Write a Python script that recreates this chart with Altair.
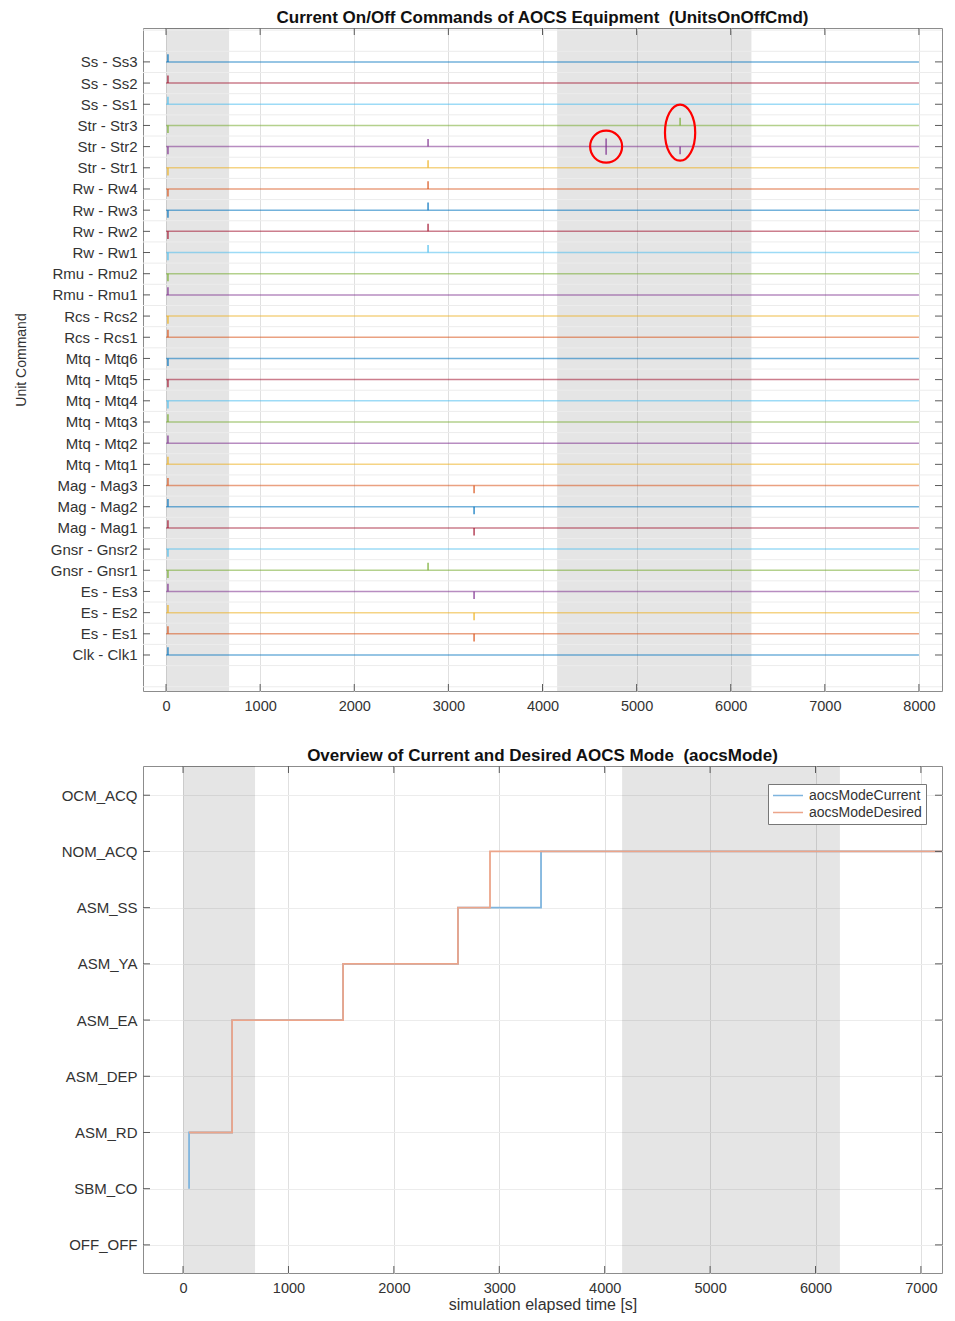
import json
import altair as alt
import pandas as pd

# ---------------- top panel: unit on/off commands ----------------
unit_labels = [
    "Clk - Clk1", "Es - Es1", "Es - Es2", "Es - Es3", "Gnsr - Gnsr1", "Gnsr - Gnsr2",
    "Mag - Mag1", "Mag - Mag2", "Mag - Mag3", "Mtq - Mtq1", "Mtq - Mtq2", "Mtq - Mtq3",
    "Mtq - Mtq4", "Mtq - Mtq5", "Mtq - Mtq6", "Rcs - Rcs1", "Rcs - Rcs2", "Rmu - Rmu1",
    "Rmu - Rmu2", "Rw - Rw1", "Rw - Rw2", "Rw - Rw3", "Rw - Rw4", "Str - Str1",
    "Str - Str2", "Str - Str3", "Ss - Ss1", "Ss - Ss2", "Ss - Ss3",
]
line_start = 0
line_end = 8000

# command pulses: time [s], unit index, direction (+1 up, -1 down, 0 both)
pulse_time = [20] * 29 + [2784] * 7 + [3273] * 6 + [4676, 5462, 5462]
pulse_unit = list(range(29)) + [24, 23, 22, 21, 20, 19, 4] + [8, 7, 6, 3, 2, 1] + [24, 25, 24]
pulse_dir = ([1, 1, 1, 1, -1, -1, 1, 1, 1, 1, 1, 1, -1, -1, -1, 1, -1, 1, -1, -1,
              -1, -1, -1, -1, -1, -1, 1, 1, 1]
             + [1] * 7 + [-1] * 6 + [0, 1, -1])

top_shade_start = [0, 4155]
top_shade_end = [670, 6220]
top_x_ticks = [0, 1000, 2000, 3000, 4000, 5000, 6000, 7000, 8000]

circle_time = [4676]
circle_unit = [24]
ellipse_time = [5462]
ellipse_unit = [24.66]

# ---------------- bottom panel: AOCS mode ----------------
mode_labels = ["OFF_OFF", "SBM_CO", "ASM_RD", "ASM_DEP", "ASM_EA", "ASM_YA",
               "ASM_SS", "NOM_ACQ", "OCM_ACQ"]
cur_time = [57, 57, 465, 1518, 2608, 3396, 7200]
cur_mode = [1, 2, 4, 5, 6, 7, 7]
des_time = [57, 465, 1518, 2608, 2912, 7200]
des_mode = [2, 4, 5, 6, 7, 7]
bot_shade_start = [0, 4165]
bot_shade_end = [683, 6232]
bot_x_ticks = [0, 1000, 2000, 3000, 4000, 5000, 6000, 7000]

# ---------------- styling ----------------
FONT = "Liberation Sans"
W = 799
H1 = 663
H2 = 507
TICK = 7
TICK_COLOR = "#5a5a5a"
TXT = "#333333"
matlab = ["#0072BD", "#D95319", "#EDB120", "#7E2F8E", "#77AC30", "#4DBEEE", "#A2142F"]

# ======== top panel ========
tx_scale = alt.Scale(domain=[-245, 8245], nice=False, zero=False)
ty_scale = alt.Scale(domain=[-1.7, 29.6], nice=False, zero=False)
tx_axis = alt.Axis(values=top_x_ticks, format="d", grid=True, gridColor="#e0e0e0",
                   ticks=False, domain=False, labelFontSize=14.5, labelColor=TXT,
                   labelPadding=8, title="")
ty_axis = alt.Axis(values=list(range(len(unit_labels))),
                   labelExpr=json.dumps(unit_labels) + "[datum.value]",
                   grid=False, ticks=False, domain=False, labelFontSize=15,
                   labelColor=TXT, labelPadding=6, title="Unit Command",
                   titleFontSize=14, titleFontWeight="normal", titleColor=TXT,
                   titlePadding=22)


def tx(f):
    return alt.X(f, scale=tx_scale, axis=tx_axis)


def ty(f):
    return alt.Y(f, scale=ty_scale, axis=ty_axis)


shade_t = alt.Chart(pd.DataFrame({"s": top_shade_start, "e": top_shade_end})).mark_rect(
    color="#000000", opacity=0.1).encode(x=tx("s:Q"), x2="e:Q", y=alt.value(0), y2=alt.value(H1))

half_grid = alt.Chart(pd.DataFrame({"g": [i + 0.5 for i in range(-2, 30)]})).mark_rule(
    color="#ececec", strokeWidth=1).encode(y=ty("g:Q"))

units_df = pd.DataFrame({
    "row": list(range(len(unit_labels))),
    "start": [line_start] * len(unit_labels),
    "end": [line_end] * len(unit_labels),
    "col": [matlab[i % 7] for i in range(len(unit_labels))],
})
unit_lines = alt.Chart(units_df).mark_rule(strokeWidth=1.5, opacity=0.55).encode(
    x=tx("start:Q"), x2="end:Q", y=ty("row:Q"), color=alt.Color("col:N", scale=None))

pulse_df = pd.DataFrame({"t": pulse_time, "row": pulse_unit, "d": pulse_dir})
pulse_df["lo"] = pulse_df["row"] + pulse_df["d"].map({1: 0.0, -1: -0.36, 0: -0.38})
pulse_df["hi"] = pulse_df["row"] + pulse_df["d"].map({1: 0.36, -1: 0.0, 0: 0.38})
pulse_df["col"] = [matlab[r % 7] for r in pulse_df["row"]]
pulses = alt.Chart(pulse_df).mark_rule(strokeWidth=1.5, opacity=0.8).encode(
    x=tx("t:Q"), y=ty("lo:Q"), y2="hi:Q", color=alt.Color("col:N", scale=None))

circ = alt.Chart(pd.DataFrame({"t": circle_time, "row": circle_unit})).mark_point(
    shape="circle", size=1024, filled=False, color="#ff0000", strokeWidth=2.2, opacity=1
).encode(x=tx("t:Q"), y=ty("row:Q"))
ell = alt.Chart(pd.DataFrame({"t": ellipse_time, "row": ellipse_unit})).mark_point(
    shape="M-0.54,0A0.54,1,0,1,0,0.54,0A0.54,1,0,1,0,-0.54,0Z", size=3136, filled=False,
    color="#ff0000", strokeWidth=2.2, opacity=1
).encode(x=tx("t:Q"), y=ty("row:Q"))

ty_ticks_df = pd.DataFrame({"v": list(range(len(unit_labels)))})
tx_ticks_df = pd.DataFrame({"v": top_x_ticks})
t_tick_l = alt.Chart(ty_ticks_df).mark_rule(color=TICK_COLOR).encode(
    y=ty("v:Q"), x=alt.value(0), x2=alt.value(TICK))
t_tick_r = alt.Chart(ty_ticks_df).mark_rule(color=TICK_COLOR).encode(
    y=ty("v:Q"), x=alt.value(W - TICK), x2=alt.value(W))
t_tick_b = alt.Chart(tx_ticks_df).mark_rule(color=TICK_COLOR).encode(
    x=tx("v:Q"), y=alt.value(H1 - TICK), y2=alt.value(H1))
t_tick_t = alt.Chart(tx_ticks_df).mark_rule(color=TICK_COLOR).encode(
    x=tx("v:Q"), y=alt.value(0), y2=alt.value(TICK))

top = alt.layer(shade_t, half_grid, unit_lines, pulses, circ, ell,
                t_tick_l, t_tick_r, t_tick_b, t_tick_t).properties(
    width=W, height=H1,
    title=alt.TitleParams("Current On/Off Commands of AOCS Equipment \u00a0(UnitsOnOffCmd)",
                          fontSize=17, fontWeight="bold", color="#111111", offset=1, font=FONT))

# ======== bottom panel ========
bx_scale = alt.Scale(domain=[-380, 7200], nice=False, zero=False)
by_scale = alt.Scale(domain=[-0.5, 8.52], nice=False, zero=False)
bx_axis = alt.Axis(values=bot_x_ticks, format="d", grid=True, gridColor="#e0e0e0",
                   ticks=False, domain=False, labelFontSize=14.5, labelColor=TXT,
                   labelPadding=8, title="simulation elapsed time [s]", titleFontSize=16,
                   titleFontWeight="normal", titleColor=TXT, titlePadding=2)
by_axis = alt.Axis(values=list(range(len(mode_labels))),
                   labelExpr=json.dumps(mode_labels) + "[datum.value]",
                   grid=True, gridColor="#ececec", ticks=False, domain=False,
                   labelFontSize=15, labelColor=TXT, labelPadding=6, title="")


def bx(f):
    return alt.X(f, scale=bx_scale, axis=bx_axis)


def by(f):
    return alt.Y(f, scale=by_scale, axis=by_axis)


shade_b = alt.Chart(pd.DataFrame({"s": bot_shade_start, "e": bot_shade_end})).mark_rect(
    color="#000000", opacity=0.1).encode(x=bx("s:Q"), x2="e:Q", y=alt.value(0), y2=alt.value(H2))

mode_df = pd.concat([
    pd.DataFrame({"t": cur_time, "mode": cur_mode, "series": "aocsModeCurrent"}),
    pd.DataFrame({"t": des_time, "mode": des_mode, "series": "aocsModeDesired"}),
], ignore_index=True)
mode_lines = alt.Chart(mode_df).mark_line(interpolate="step-after", strokeWidth=1.8).encode(
    x=bx("t:Q"), y=by("mode:Q"),
    color=alt.Color("series:N",
                    scale=alt.Scale(domain=["aocsModeCurrent", "aocsModeDesired"],
                                    range=["#7fb5de", "#eca58a"]),
                    legend=alt.Legend(orient="none", legendX=625, legendY=18, title=None,
                                      symbolType="stroke", symbolSize=900, clipHeight=15,
                                      symbolStrokeWidth=1.5, labelFontSize=14,
                                      labelColor=TXT, labelFont=FONT, strokeColor="#777777",
                                      fillColor="#ffffff", padding=4, rowPadding=2,
                                      labelOffset=5)),
    detail="series:N")

by_ticks_df = pd.DataFrame({"v": list(range(len(mode_labels)))})
bx_ticks_df = pd.DataFrame({"v": bot_x_ticks})
b_tick_l = alt.Chart(by_ticks_df).mark_rule(color=TICK_COLOR).encode(
    y=by("v:Q"), x=alt.value(0), x2=alt.value(TICK))
b_tick_r = alt.Chart(by_ticks_df).mark_rule(color=TICK_COLOR).encode(
    y=by("v:Q"), x=alt.value(W - TICK), x2=alt.value(W))
b_tick_b = alt.Chart(bx_ticks_df).mark_rule(color=TICK_COLOR).encode(
    x=bx("v:Q"), y=alt.value(H2 - TICK), y2=alt.value(H2))
b_tick_t = alt.Chart(bx_ticks_df).mark_rule(color=TICK_COLOR).encode(
    x=bx("v:Q"), y=alt.value(0), y2=alt.value(TICK))

bottom = alt.layer(shade_b, mode_lines, b_tick_l, b_tick_r, b_tick_b, b_tick_t).properties(
    width=W, height=H2,
    title=alt.TitleParams("Overview of Current and Desired AOCS Mode \u00a0(aocsMode)",
                          fontSize=17, fontWeight="bold", color="#111111", offset=1, font=FONT))

chart = alt.vconcat(top, bottom, spacing=75, bounds="flush").resolve_scale(
    color="independent"
).resolve_legend(
    color="independent"
).properties(
    padding={"left": 5, "top": 0, "right": 0, "bottom": 0}
).configure(font=FONT).configure_view(stroke="#8c8c8c", strokeWidth=1)

chart.save("out.html", embed_options={"renderer": "svg", "actions": False})
